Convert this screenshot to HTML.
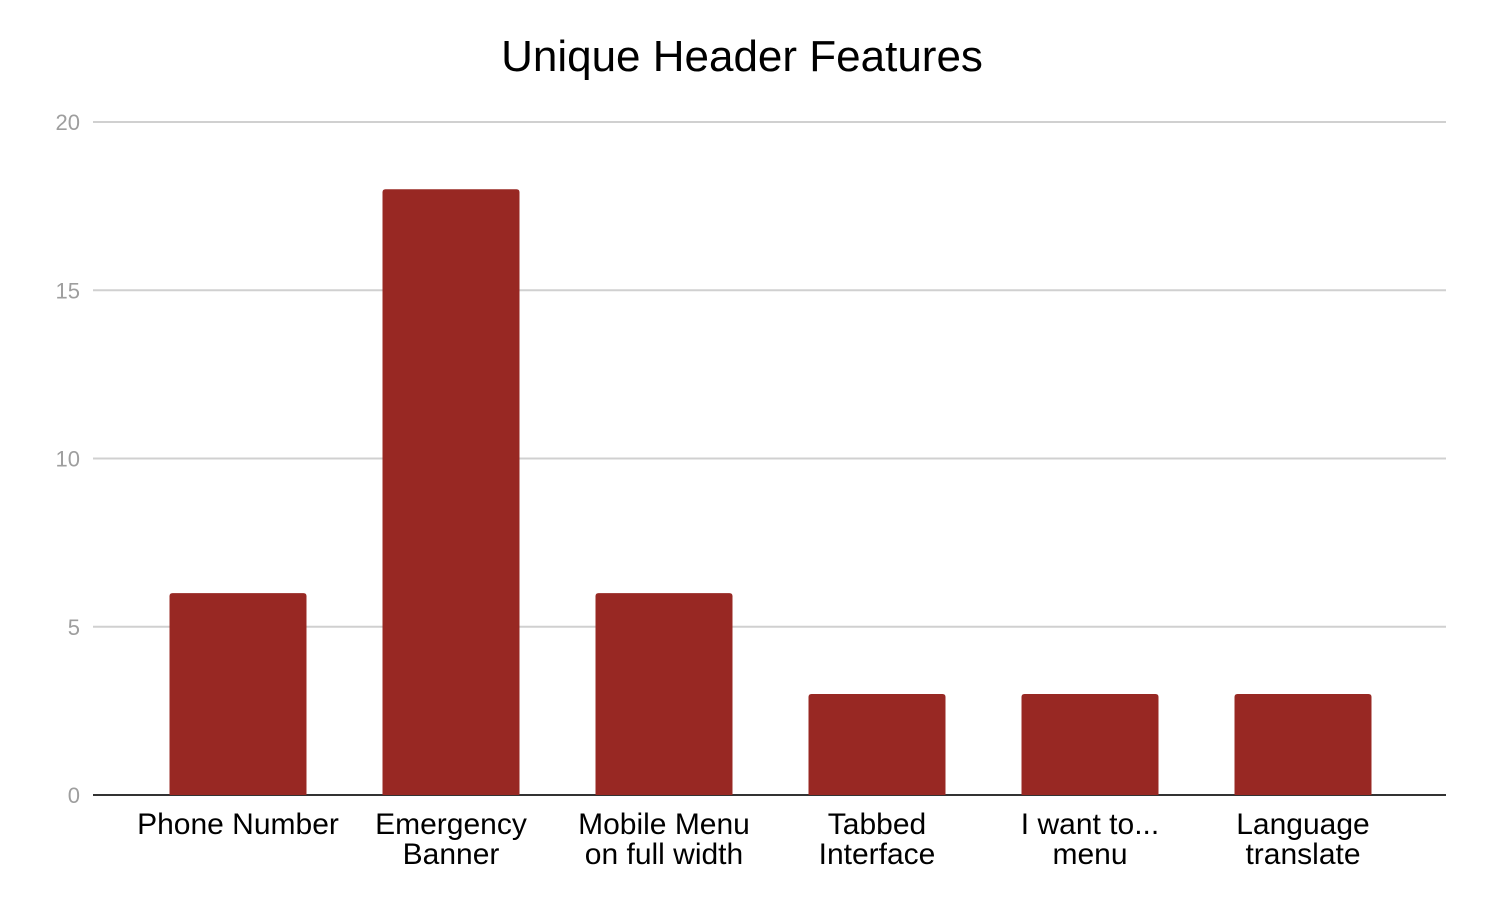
<!DOCTYPE html>
<html><head><meta charset="utf-8"><style>
html,body{margin:0;padding:0;background:#fff;}
svg{display:block;font-family:"Liberation Sans",Arial,sans-serif;}
</style></head><body>
<svg id="chart" width="1488" height="912">
<text x="742" y="71" text-anchor="middle" font-size="44" fill="#000">Unique Header Features</text>
<g id="grid"></g><g id="bars"></g><g id="labels"></g>
</svg>
<script>
const categories = [["Phone Number"],["Emergency","Banner"],["Mobile Menu","on full width"],["Tabbed","Interface"],["I want to...","menu"],["Language","translate"]];
const values = [6,18,6,3,3,3];
const ticks = [0,5,10,15,20];
const NS="http://www.w3.org/2000/svg";
const y0=795, yTop=122, yMax=20;
const y=v=>y0-(y0-yTop)*v/yMax;
const bandStart=131.5, band=213, barW=137;
const xc=i=>bandStart+band*(i+0.5);
function mk(t,a,p){const e=document.createElementNS(NS,t);for(const k in a)e.setAttribute(k,a[k]);p.appendChild(e);return e;}
const g=document.getElementById('grid'),b=document.getElementById('bars'),l=document.getElementById('labels');
ticks.forEach(t=>{
  if(t>0){const ln=mk('line',{x1:93,x2:1446,y1:y(t),y2:y(t),stroke:'#d0d0d0','stroke-width':2},g);
  
  }
  const tx=mk('text',{x:80,y:y(t)+8,'text-anchor':'end','font-size':22,fill:'#9e9e9e'},g);
  tx.textContent=t;
  
  
});
values.forEach((v,i)=>{
  const x=xc(i)-barW/2, top=y(v), r=3;
  const p=mk('path',{d:`M${x},${y0} V${top+r} Q${x},${top} ${x+r},${top} H${x+barW-r} Q${x+barW},${top} ${x+barW},${top+r} V${y0} Z`,fill:'#982823'},b);
  
  
  categories[i].forEach((s,j)=>{
    const t=mk('text',{x:xc(i),y:834+j*30,'text-anchor':'middle','font-size':30,fill:'#000'},l);
    t.textContent=s;
    
    
  });
});
const ax=mk('line',{x1:93,x2:1446,y1:y0,y2:y0,stroke:'#333','stroke-width':2},g);


</script>
</body></html>
